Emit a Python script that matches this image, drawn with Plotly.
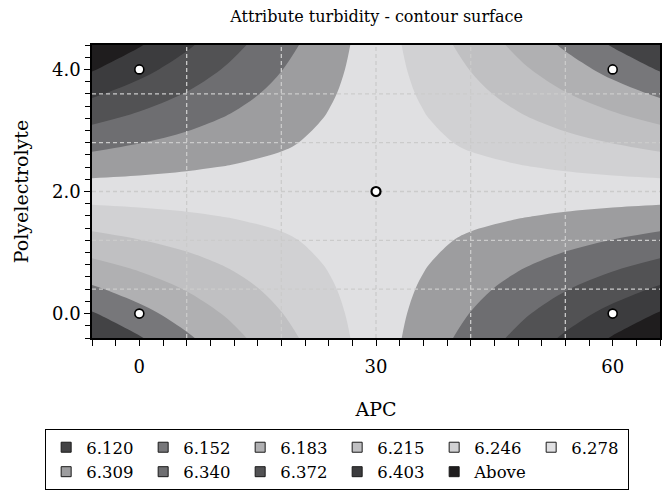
import plotly.graph_objects as go

# ---------------- data ----------------
apc_grid = [-6, 0, 6, 12, 18, 24, 30, 36, 42, 48, 54, 60, 66]
poly_grid = [-0.4, 0.0, 0.4, 0.8, 1.2, 1.6, 2.0, 2.4, 2.8, 3.2, 3.6, 4.0, 4.4]

# turbidity surface, one row per polyelectrolyte value (bottom -> top)
turbidity = [
    [6.089, 6.118, 6.147, 6.176, 6.204, 6.233, 6.262, 6.291, 6.320, 6.348, 6.377, 6.406, 6.435],
    [6.118, 6.142, 6.166, 6.190, 6.214, 6.238, 6.262, 6.286, 6.310, 6.334, 6.358, 6.382, 6.406],
    [6.147, 6.166, 6.185, 6.204, 6.224, 6.243, 6.262, 6.281, 6.300, 6.320, 6.339, 6.358, 6.377],
    [6.176, 6.190, 6.204, 6.219, 6.233, 6.248, 6.262, 6.276, 6.291, 6.305, 6.320, 6.334, 6.348],
    [6.204, 6.214, 6.224, 6.233, 6.243, 6.252, 6.262, 6.272, 6.281, 6.291, 6.300, 6.310, 6.320],
    [6.233, 6.238, 6.243, 6.248, 6.252, 6.257, 6.262, 6.267, 6.272, 6.276, 6.281, 6.286, 6.291],
    [6.262, 6.262, 6.262, 6.262, 6.262, 6.262, 6.262, 6.262, 6.262, 6.262, 6.262, 6.262, 6.262],
    [6.291, 6.286, 6.281, 6.276, 6.272, 6.267, 6.262, 6.257, 6.252, 6.248, 6.243, 6.238, 6.233],
    [6.320, 6.310, 6.300, 6.291, 6.281, 6.272, 6.262, 6.252, 6.243, 6.233, 6.224, 6.214, 6.204],
    [6.348, 6.334, 6.320, 6.305, 6.291, 6.276, 6.262, 6.248, 6.233, 6.219, 6.204, 6.190, 6.176],
    [6.377, 6.358, 6.339, 6.320, 6.300, 6.281, 6.262, 6.243, 6.224, 6.204, 6.185, 6.166, 6.147],
    [6.406, 6.382, 6.358, 6.334, 6.310, 6.286, 6.262, 6.238, 6.214, 6.190, 6.166, 6.142, 6.118],
    [6.435, 6.406, 6.377, 6.348, 6.320, 6.291, 6.262, 6.233, 6.204, 6.176, 6.147, 6.118, 6.089],
]

design_apc = [0, 0, 30, 60, 60]
design_poly = [0, 4, 2, 0, 4]

level_labels = ["6.120", "6.152", "6.183", "6.215", "6.246", "6.278",
                "6.309", "6.340", "6.372", "6.403", "Above"]
level_start = 6.1205
level_end = 6.4036
level_size = 0.03145

band_colors = ["#434345", "#77777a", "#b0b0b2", "#c0c0c2", "#d1d1d3", "#e0e0e2",
               "#9d9d9f", "#6e6e71", "#525254", "#3c3c3e", "#1f1d1e"]

x_range = [-6, 66]
y_range = [-0.4, 4.4]
grid_apc = [6, 18, 30, 42, 54]
grid_poly = [0.4, 1.2, 2.0, 2.8, 3.6]

FONT = "DejaVu Serif"

# ---------------- figure ----------------
fig = go.Figure()

colorscale = [[i / (len(band_colors) - 1), c] for i, c in enumerate(band_colors)]

fig.add_trace(go.Contour(
    x=apc_grid, y=poly_grid, z=turbidity,
    autocontour=False,
    contours=dict(start=level_start, end=level_end, size=level_size,
                  coloring="fill", showlines=False),
    line=dict(width=0, smoothing=1),
    colorscale=colorscale, showscale=False, showlegend=False,
    hoverinfo="skip",
))

# dashed grid drawn over the filled surface
gx, gy = [], []
for v in grid_apc:
    gx += [v, v, None]
    gy += [y_range[0], y_range[1], None]
for v in grid_poly:
    gx += [x_range[0], x_range[1], None]
    gy += [v, v, None]
fig.add_trace(go.Scatter(
    x=gx, y=gy, mode="lines",
    line=dict(color="#cbcbcb", width=1.3, dash="4px,3px"),
    showlegend=False, hoverinfo="skip",
))

fig.add_trace(go.Scatter(
    x=design_apc, y=design_poly, mode="markers",
    marker=dict(size=9, color="white",
                line=dict(color="black", width=[1.6, 1.6, 2.2, 1.6, 1.6])),
    showlegend=False, hoverinfo="skip",
))

for lab, col in zip(level_labels, band_colors):
    fig.add_trace(go.Scatter(
        x=[None], y=[None], mode="markers", name=lab,
        marker=dict(symbol="square", size=10, color=col,
                    line=dict(color="#1a1a1a", width=1)),
    ))

axis_common = dict(
    showline=True, linecolor="black", linewidth=1.5, mirror=True,
    showgrid=False, zeroline=False, ticks="outside", ticklen=6,
    tickwidth=1.2, tickcolor="black", layer="above traces",
    tickfont=dict(family=FONT, size=18, color="black"),
)

fig.update_layout(
    width=672, height=500,
    margin=dict(l=92, r=10, t=45, b=162),
    paper_bgcolor="white", plot_bgcolor="white",
    font=dict(family=FONT, color="black"),
    title=dict(text="Attribute turbidity - contour surface",
               x=0.5605, xanchor="center", y=1 - 16 / 500, yanchor="middle",
               font=dict(family=FONT, size=16, color="black")),
    xaxis=dict(range=x_range, tick0=0, dtick=30, ticklabelstandoff=6,
               minor=dict(dtick=3, ticks="outside", ticklen=6, tickcolor="black",
                          tickwidth=1.2, showgrid=False),
               title=dict(text="APC", standoff=26,
                          font=dict(family=FONT, size=19, color="black")),
               **axis_common),
    yaxis=dict(range=y_range, tick0=0, dtick=2, tickformat=".1f",
               minor=dict(dtick=0.2, ticks="outside", ticklen=5, tickcolor="black",
                          tickwidth=1.2, showgrid=False),
               title=dict(text="Polyelectrolyte", standoff=18,
                          font=dict(family=FONT, size=19, color="black")),
               **axis_common),
    legend=dict(orientation="h", x=(45 - 92) / 570, xanchor="left",
                y=(338 - 429) / 293, yanchor="top",
                font=dict(family=FONT, size=16.5, color="black"),
                bordercolor="black", borderwidth=1, bgcolor="white",
                entrywidth=52, entrywidthmode="pixels", tracegroupgap=0),
)

fig.write_html("out.html")
